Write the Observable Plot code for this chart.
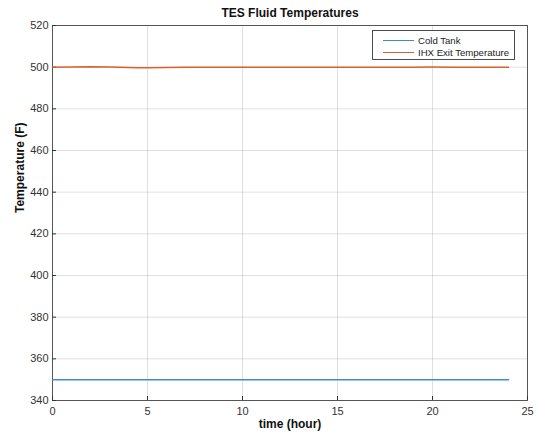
<!DOCTYPE html>
<html>
<head>
<meta charset="utf-8">
<script src="https://cdn.jsdelivr.net/npm/d3@7"></script>
<script src="https://cdn.jsdelivr.net/npm/@observablehq/plot@0.6"></script>
<style>
  html, body { margin: 0; padding: 0; background: #fff; }
  #wrap { position: relative; width: 542px; height: 436px; font-family: "Liberation Sans", Arial, sans-serif; }
  #legend { position: absolute; left: 372px; top: 30px; width: 143px; height: 30px; border: 1px solid #4a4a4a; background: #fff; font-size: 9.6px; color: #222; box-sizing: border-box; padding: 3px 0 0 10px; white-space: nowrap; }
  #legend .row { display: flex; align-items: center; height: 12px; white-space: nowrap; }
  #legend .sw { flex: none; width: 31px; height: 0; border-top: 1.5px solid; margin-right: 4px; }
</style>
</head>
<body>
<div id="wrap"></div>
<script>
const title = "TES Fluid Temperatures";
const xLabel = "time (hour)";
const yLabel = "Temperature (F)";
const seriesNames = ["Cold Tank", "IHX Exit Temperature"];
const seriesColors = ["#3d8fc4", "#d9622b"];
const xTicks = [0, 5, 10, 15, 20, 25];
const yTicks = [340, 360, 380, 400, 420, 440, 460, 480, 500, 520];

const time = [0, 1, 2, 3, 4, 4.5, 5, 6, 7, 8, 9, 10, 11, 12, 13, 14, 15, 16, 17, 18, 19, 20, 21, 22, 23, 24];
const coldTank = [350, 350, 350, 350, 350, 350, 350, 350, 350, 350, 350, 350, 350, 350, 350, 350, 350, 350, 350, 350, 350, 350, 350, 350, 350, 350];
const ihxExit = [500.0, 500.1, 500.25, 500.1, 499.85, 499.7, 499.72, 499.85, 499.95, 500.0, 499.95, 500.0, 500.0, 499.98, 500.0, 500.0, 500.0, 499.98, 500.0, 500.02, 500.0, 500.05, 499.98, 500.0, 500.02, 500.0];

const data = [];
time.forEach((t, i) => {
  data.push({t, v: coldTank[i], s: seriesNames[0]});
  data.push({t, v: ihxExit[i], s: seriesNames[1]});
});

const chart = Plot.plot({
  width: 542,
  height: 436,
  marginLeft: 52,
  marginRight: 15,
  marginTop: 25,
  marginBottom: 36,
  style: { fontFamily: "Liberation Sans, Arial, sans-serif", fontSize: "11px", color: "#333", background: "#fff" },
  x: { domain: [0, 25], ticks: xTicks },
  y: { domain: [340, 520], ticks: yTicks },
  color: { domain: seriesNames, range: seriesColors },
  marks: [
    Plot.gridX(xTicks, { stroke: "#000", strokeOpacity: 0.12 }),
    Plot.gridY(yTicks, { stroke: "#000", strokeOpacity: 0.12 }),
    Plot.frame({ stroke: "#555" }),
    Plot.axisX(xTicks, { tickSize: -4, tickPadding: 11, label: null, fontSize: 11 }),
    Plot.axisY(yTicks, { tickSize: -4, tickPadding: 8, label: null, fontSize: 11 }),
    Plot.lineY(data, { x: "t", y: "v", z: "s", stroke: "s", strokeWidth: 1.5 }),
    Plot.text([title], { frameAnchor: "top", dy: -17, fontWeight: "bold", fontSize: 12, fill: "#111" }),
    Plot.text([xLabel], { frameAnchor: "bottom", dy: 27, fontWeight: "bold", fontSize: 12, fill: "#111" }),
    Plot.text([yLabel], { frameAnchor: "left", dx: -32, rotate: -90, fontWeight: "bold", fontSize: 12, fill: "#111" })
  ]
});

const wrap = document.getElementById("wrap");
wrap.appendChild(chart);
const legend = document.createElement("div");
legend.id = "legend";
seriesNames.forEach((n, i) => {
  const row = document.createElement("div");
  row.className = "row";
  const sw = document.createElement("span");
  sw.className = "sw";
  sw.style.borderColor = seriesColors[i];
  row.appendChild(sw);
  const tx = document.createElement("span");
  tx.textContent = n;
  row.appendChild(tx);
  legend.appendChild(row);
});
wrap.appendChild(legend);
</script>
</body>
</html>
